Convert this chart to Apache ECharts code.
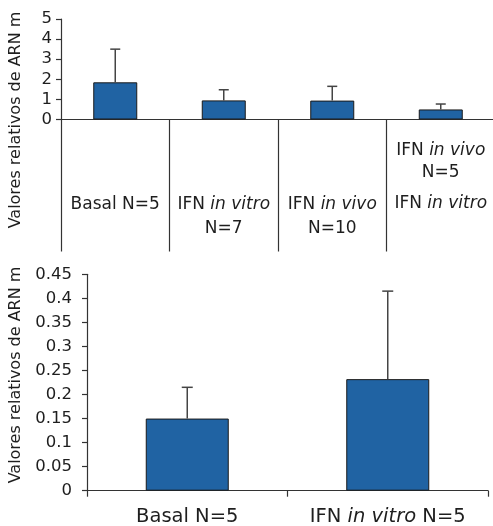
<!DOCTYPE html>
<html>
<head>
<meta charset="utf-8">
<script src="https://cdn.jsdelivr.net/npm/echarts@6/dist/echarts.min.js"></script>
<style>
  html, body { margin: 0; padding: 0; background: #fff; }
  #chart { width: 493px; height: 526px; }
</style>
</head>
<body>
<div id="chart"></div>
<script>
// panel superior: 4 grupos
const topCategories = ['Basal N=5', 'IFN in vitro\nN=7', 'IFN in vivo\nN=10', 'IFN in vivo\nN=5\nIFN in vitro'];
const topValues = [1.85, 0.95, 0.94, 0.5];
const topErrTop = [3.5, 1.48, 1.65, 0.77];
const topTicks = [0, 1, 2, 3, 4, 5];

// panel inferior: 2 grupos
const bottomCategories = ['Basal N=5', 'IFN in vitro N=5'];
const bottomValues = [0.15, 0.232];
const bottomErrTop = [0.215, 0.415];
const bottomTicks = [0, 0.05, 0.1, 0.15, 0.2, 0.25, 0.3, 0.35, 0.4, 0.45];

const yTitle = 'Valores relativos de ARN m';

const FONT = 'DejaVu Sans';
const BAR_COLOR = '#2063a3';
const LINE_COLOR = '#333';

// separa "in vitro"/"in vivo" en cursiva
function fmtLine(line, key) {
  return line.split(/(in vi\w+)/).filter(s => s.length).map(s =>
    /^in vi/.test(s) ? '{' + key + 'i|' + s + '}' : '{' + key + '|' + s + '}'
  ).join('');
}

function topLabel(value) {
  const lines = value.split('\n');
  if (lines.length === 3) {
    return lines.map((l, k) => fmtLine(l, k === 2 ? 'c' : 'a')).join('\n');
  }
  return '{sp| }\n' + lines.map(l => fmtLine(l, 'b')).join('\n');
}

function bottomLabel(value) {
  return fmtLine(value, 'd');
}

const txt = { fontFamily: FONT, color: '#1e1e1e' };
const rich = {
  a: Object.assign({ fontSize: 17, lineHeight: 22 }, txt),
  ai: Object.assign({ fontSize: 17, lineHeight: 22, fontStyle: 'italic' }, txt),
  c: Object.assign({ fontSize: 17, lineHeight: 41 }, txt),
  ci: Object.assign({ fontSize: 17, lineHeight: 41, fontStyle: 'italic' }, txt),
  b: Object.assign({ fontSize: 17, lineHeight: 24 }, txt),
  bi: Object.assign({ fontSize: 17, lineHeight: 24, fontStyle: 'italic' }, txt),
  sp: Object.assign({ fontSize: 17, lineHeight: 53 }, txt),
  d: Object.assign({ fontSize: 19.5, lineHeight: 22 }, txt),
  di: Object.assign({ fontSize: 19.5, lineHeight: 22, fontStyle: 'italic' }, txt)
};

function errorSeries(axisIdx, vals, tops, capHalf) {
  return {
    type: 'custom',
    xAxisIndex: axisIdx,
    yAxisIndex: axisIdx,
    z: 3,
    silent: true,
    data: vals.map((v, i) => [i, v, tops[i]]),
    renderItem(params, api) {
      const base = api.coord([api.value(0), api.value(1)]);
      const top = api.coord([api.value(0), api.value(2)]);
      const st = { stroke: '#444', lineWidth: 1.5 };
      return {
        type: 'group',
        children: [
          { type: 'line', shape: { x1: base[0], y1: base[1], x2: top[0], y2: top[1] }, style: st },
          { type: 'line', shape: { x1: top[0] - capHalf, y1: top[1], x2: top[0] + capHalf, y2: top[1] }, style: st }
        ]
      };
    }
  };
}

const chart = echarts.init(document.getElementById('chart'));

const option = {
  animation: false,
  backgroundColor: '#fff',
  textStyle: { fontFamily: FONT },
  grid: [
    { left: 61, top: 19, right: -2, bottom: 406.5, outerBoundsMode: 'none' },
    { left: 87, top: 274.3, right: 5, bottom: 35.3, outerBoundsMode: 'none' }
  ],
  graphic: [
    {
      type: 'text', x: 16, y: 120, rotation: Math.PI / 2,
      style: { text: yTitle, fontFamily: FONT, fontSize: 16, fill: '#1e1e1e', align: 'center', verticalAlign: 'middle' }
    },
    {
      type: 'text', x: 16, y: 375, rotation: Math.PI / 2,
      style: { text: yTitle, fontFamily: FONT, fontSize: 16, fill: '#1e1e1e', align: 'center', verticalAlign: 'middle' }
    }
  ],
  xAxis: [
    {
      type: 'category',
      gridIndex: 0,
      data: topCategories,
      axisLine: { lineStyle: { color: LINE_COLOR, width: 1.2 } },
      axisTick: { show: true, alignWithLabel: false, interval: 0, length: 132, lineStyle: { color: LINE_COLOR, width: 1.2 } },
      axisLabel: { interval: 0, margin: 20, formatter: topLabel, rich: rich }
    },
    {
      type: 'category',
      gridIndex: 1,
      data: bottomCategories,
      axisLine: { lineStyle: { color: LINE_COLOR, width: 1.2 } },
      axisTick: { show: true, alignWithLabel: false, interval: 0, length: 6, lineStyle: { color: LINE_COLOR, width: 1.2 } },
      axisLabel: { interval: 0, margin: 15, formatter: bottomLabel, rich: rich }
    }
  ],
  yAxis: [
    {
      type: 'value',
      gridIndex: 0,
      min: topTicks[0],
      max: topTicks[topTicks.length - 1],
      interval: topTicks[1] - topTicks[0],
      splitLine: { show: false },
      axisLine: { show: true, lineStyle: { color: LINE_COLOR, width: 1.2 } },
      axisTick: { show: true, length: 5, lineStyle: { color: LINE_COLOR, width: 1.2 } },
      axisLabel: { fontSize: 16.5, color: '#1e1e1e', margin: 9 }
    },
    {
      type: 'value',
      gridIndex: 1,
      min: bottomTicks[0],
      max: bottomTicks[bottomTicks.length - 1],
      interval: 0.05,
      splitLine: { show: false },
      axisLine: { show: true, lineStyle: { color: LINE_COLOR, width: 1.2 } },
      axisTick: { show: true, length: 5, lineStyle: { color: LINE_COLOR, width: 1.2 } },
      axisLabel: { fontSize: 16.5, color: '#1e1e1e', margin: 15 }
    }
  ],
  series: [
    {
      type: 'bar',
      xAxisIndex: 0,
      yAxisIndex: 0,
      data: topValues,
      barWidth: 44,
      itemStyle: { color: BAR_COLOR, borderColor: '#1a1a1a', borderWidth: 1 }
    },
    errorSeries(0, topValues, topErrTop, 5),
    {
      type: 'bar',
      xAxisIndex: 1,
      yAxisIndex: 1,
      data: bottomValues,
      barWidth: 83,
      itemStyle: { color: BAR_COLOR, borderColor: '#1a1a1a', borderWidth: 1 }
    },
    errorSeries(1, bottomValues, bottomErrTop, 5.5)
  ]
};

chart.setOption(option);
</script>
</body>
</html>
